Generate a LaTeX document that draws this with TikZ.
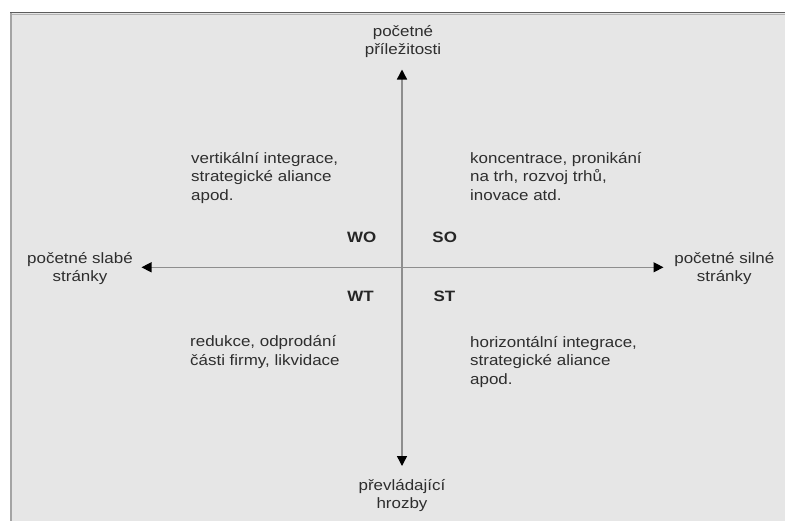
\documentclass[tikz,border=0pt]{standalone}
\usepackage{fontspec}
\setmainfont{Liberation Sans}[FakeStretch=1.13]
\usetikzlibrary{arrows.meta}
\definecolor{bg}{HTML}{E6E6E6}
\definecolor{axgray}{HTML}{8E8E8E}
\definecolor{txt}{HTML}{2E2E2E}
\definecolor{topedge}{HTML}{5C5C5C}
\definecolor{leftedge}{HTML}{A4A4A4}
\tikzset{
  lbl/.style={font=\fontsize{15}{18.5}\selectfont, text=txt, inner sep=0pt},
  quad/.style={lbl, align=left, anchor=base west},
  axlbl/.style={lbl, align=center, anchor=base},
  code/.style={font=\bfseries\fontsize{15}{18}\selectfont, text=black!85, inner sep=0pt, anchor=base},
  axis/.style={draw=axgray, line width=1.4pt, {Triangle[length=10pt,width=10pt,color=black]}-{Triangle[length=10pt,width=10pt,color=black]}},
}
\begin{document}
\begin{tikzpicture}[x=1pt,y=-1pt]
\useasboundingbox (0,0) rectangle (785,520);
\clip (0,0) rectangle (785,520);
% frame
\fill[bg] (10,12) rectangle (790,530);
\draw[leftedge, line width=2.5pt] (11.2,12) -- (11.2,525);
\draw[topedge, line width=1.3pt] (10,12.6) -- (790,12.6);
\draw[black!30, line width=0.8pt] (12,14) -- (790,14);

% axis end points
\coordinate (N) at (402,69.5);
\coordinate (S) at (402,466);
\coordinate (W) at (141.5,267.3);
\coordinate (E) at (663.5,267.3);
\draw[axis] (S) -- (N);
\draw[axis] (W) -- (E);

% axis labels (base anchor = last line's baseline)
\node[axlbl] (top) at (403,54.5) {početné\\příležitosti};
\node[axlbl] (bottom) at (402,508.5) {převládající\\hrozby};
\node[axlbl] (left) at (80,281.8) {početné slabé\\stránky};
\node[axlbl] (right) at (724.3,281.8) {početné silné\\stránky};

% quadrant codes
\node[code] (wo) at (361.7,242.7) {WO};
\node[code] (so) at (444.7,242.7) {SO};
\node[code] (wt) at (360.5,301) {WT};
\node[code] (st) at (444.5,301) {ST};

% quadrant texts
\node[quad] (qwo) at (191,200) {vertikální integrace,\\strategické aliance\\apod.};
\node[quad] (qso) at (470,200) {koncentrace, pronikání\\na trh, rozvoj trhů,\\inovace atd.};
\node[quad] (qwt) at (190,365.2) {redukce, odprodání\\části firmy, likvidace};
\node[quad] (qst) at (470,384) {horizontální integrace,\\strategické aliance\\apod.};
\end{tikzpicture}
\end{document}
